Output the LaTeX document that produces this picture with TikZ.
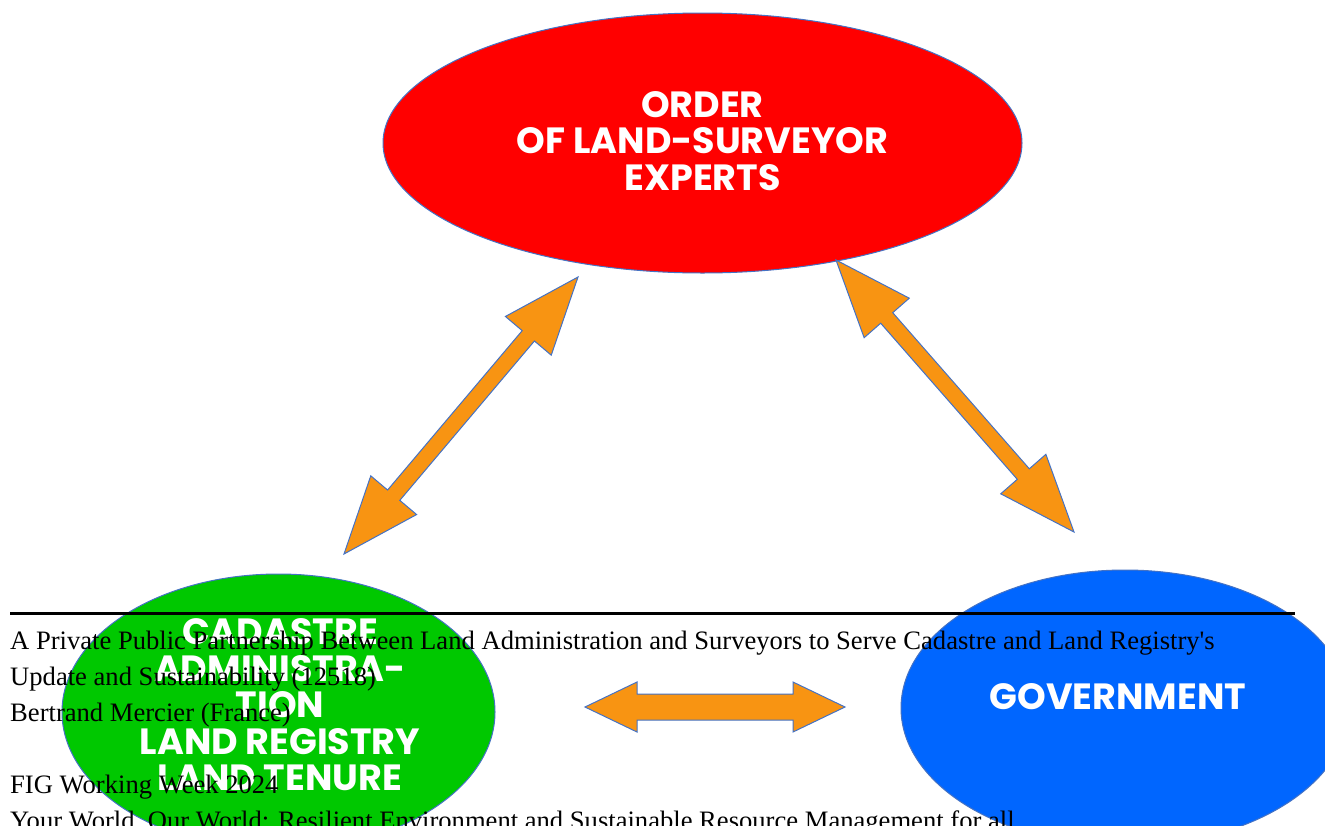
\documentclass[tikz,border=0pt]{standalone}
\usepackage{fontspec}
\setmainfont{Liberation Serif}
\newfontfamily\lblfont{Poppins}
\usetikzlibrary{shapes.geometric,calc}

\definecolor{ordred}{RGB}{255,0,0}
\definecolor{cadgreen}{RGB}{0,200,0}
\definecolor{govblue}{RGB}{0,102,255}
\definecolor{arrorange}{RGB}{248,148,18}
\definecolor{outline}{RGB}{68,114,196}

% fat double arrow between two named points:
% #1,#2 tips, #3 head length, #4 head half width, #5 shaft half width
\newcommand{\fatarrow}[5]{%
  \draw[fatarrow] (#1)
    -- ($(#1)!#3!(#2)!#4!90:(#2)$)
    -- ($(#1)!#3!(#2)!#5!90:(#2)$)
    -- ($(#2)!#3!(#1)!#5!-90:(#1)$)
    -- ($(#2)!#3!(#1)!#4!-90:(#1)$)
    -- (#2)
    -- ($(#2)!#3!(#1)!#4!90:(#1)$)
    -- ($(#2)!#3!(#1)!#5!90:(#1)$)
    -- ($(#1)!#3!(#2)!#5!-90:(#2)$)
    -- ($(#1)!#3!(#2)!#4!-90:(#2)$)
    -- cycle;}

\begin{document}
\begin{tikzpicture}[x=1pt,y=-1pt,
                    fatarrow/.style={fill=arrorange,draw=outline,line width=1pt,line join=miter},
                    party/.style={ellipse,draw=outline,line width=1pt,inner sep=0pt},
                    lbl/.style={text=white,align=center,font=\lblfont\bfseries\fontsize{36.5}{36.5}\selectfont},
                    foot/.style={anchor=base west,inner sep=0pt,font=\fontsize{26.6}{36}\selectfont}]
  \useasboundingbox (0,0) rectangle (1325,825);

  % the three parties
  \node[party,fill=ordred,minimum width=639pt,minimum height=260pt] (order) at (702.5,143) {};
  \node[party,fill=cadgreen,minimum width=433pt,minimum height=276pt] (cadastre) at (278.5,712) {};
  \node[party,fill=govblue,minimum width=448pt,minimum height=276pt] (gov) at (1125,708) {};

  % arrow ends
  \coordinate (ol) at (578,277);
  \coordinate (cl) at (344,554);
  \coordinate (or) at (836,260);
  \coordinate (gr) at (1074,532);
  \coordinate (ch) at (585,707);
  \coordinate (gh) at (845,707);

  \fatarrow{cl}{ol}{77pt}{30pt}{8pt}
  \fatarrow{or}{gr}{77pt}{30pt}{8pt}
  \fatarrow{ch}{gh}{52pt}{25pt}{13pt}

  \node[lbl] (ordertxt) at (702.5,141) {ORDER\\OF LAND-SURVEYOR\\EXPERTS};
  \node[lbl] (cadastretxt) at (280,705) {CADASTRE\\ADMINISTRA-\\TION\\LAND REGISTRY\\LAND TENURE};
  \node[lbl] (govtxt) at (1118,697) {GOVERNMENT};

  % page footer
  \draw[line width=3pt] (10,613) -- (1295,613);
  \node[foot] (f1) at (10,649) {A Private Public Partnership Between Land Administration and Surveyors to Serve Cadastre and Land Registry\textquotesingle s};
  \node[foot] (f2) at (10,685) {Update and Sustainability (12518)};
  \node[foot] (f3) at (10,721) {Bertrand Mercier (France)};
  \node[foot] (f4) at (10,793) {FIG Working Week 2024};
  \node[foot] (f5) at (10,829) {Your World, Our World: Resilient Environment and Sustainable Resource Management for all};
\end{tikzpicture}
\end{document}
